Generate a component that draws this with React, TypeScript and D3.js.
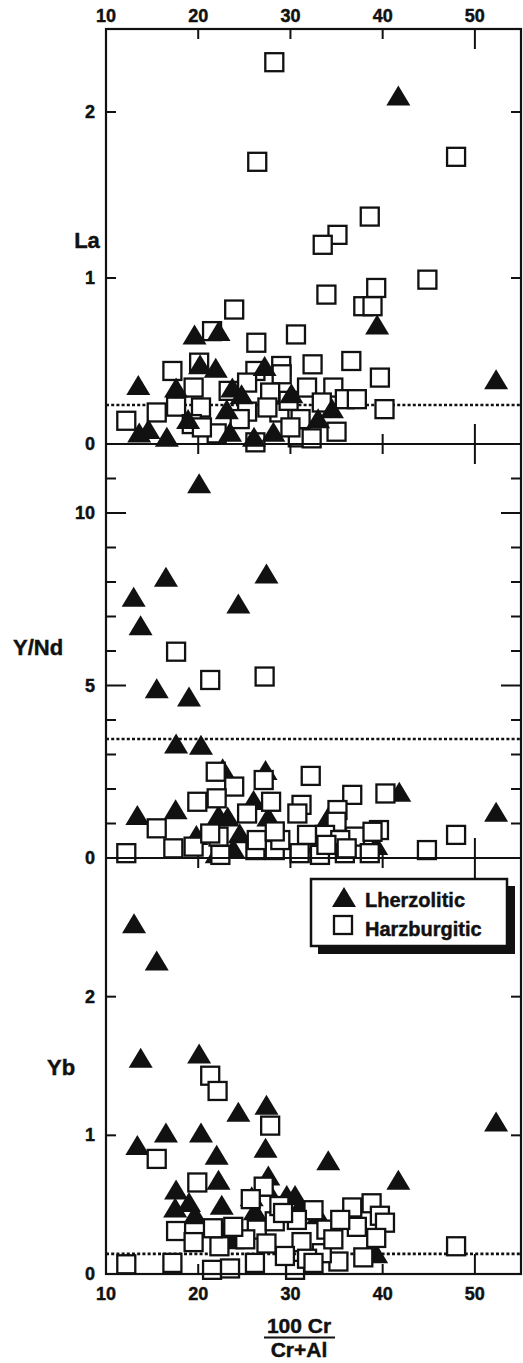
import React from "react";
import * as d3 from "d3";

// Cr# of spinel (100 Cr / (Cr+Al)) shared by all three panels
const xTicks = [10, 20, 30, 40, 50];

// La (ppm) panel
const laLherzolitic: [number, number][] = [
  [41.7, 2.1], [39.4, 0.72], [52.3, 0.39], [19.6, 0.66], [22.2, 0.68], [20.2, 0.48],
  [21.9, 0.46], [27.2, 0.47], [13.5, 0.355], [17.6, 0.34], [23.7, 0.34], [24.7, 0.3],
  [13.6, 0.07], [14.6, 0.09], [16.6, 0.044], [18.9, 0.15], [23.1, 0.21], [33.0, 0.155],
  [26.05, 0.044], [28.15, 0.074], [23.45, 0.074], [34.5, 0.215], [30.1, 0.305],
];
const laHarzburgitic: [number, number][] = [
  [28.25, 2.3], [26.4, 1.7], [47.96, 1.73], [38.6, 1.37], [35.1, 1.26], [33.5, 1.2],
  [44.85, 0.99], [39.3, 0.94], [33.9, 0.9], [37.9, 0.83], [38.9, 0.83], [23.9, 0.81],
  [21.5, 0.68], [26.3, 0.61], [30.6, 0.66], [20.1, 0.49], [17.2, 0.44], [36.6, 0.5],
  [39.7, 0.4], [32.4, 0.48], [29.0, 0.47], [26.2, 0.44], [19.5, 0.34], [25.3, 0.37],
  [23.3, 0.32], [29.05, 0.42], [31.8, 0.34], [34.65, 0.34], [27.8, 0.31], [35.9, 0.27],
  [37.2, 0.27], [17.6, 0.225], [20.3, 0.22], [15.5, 0.19], [12.2, 0.14], [25.3, 0.195],
  [28.8, 0.19], [31.1, 0.15], [33.4, 0.25], [22.0, 0.064], [35.0, 0.074], [30.8, 0.04],
  [40.2, 0.21], [19.3, 0.12], [20.4, 0.1], [26.2, 0.01], [32.3, 0.034], [29.8, 0.26],
  [27.5, 0.22], [24.5, 0.15], [30.0, 0.1],
];

// Y/Nd panel
const ynLherzolitic: [number, number][] = [
  [20.1, 10.86], [16.5, 8.15], [27.4, 8.25], [13.0, 7.57], [24.35, 7.38], [13.75, 6.75],
  [15.5, 4.92], [19.0, 4.68], [17.6, 3.32], [20.3, 3.28], [41.8, 1.92], [52.3, 1.34],
  [13.4, 1.25], [17.55, 1.41], [27.3, 2.55], [22.65, 2.6], [22.2, 1.25], [23.2, 1.2],
  [26.0, 1.68], [27.6, 1.2], [24.5, 0.72], [33.0, 0.43], [39.3, 0.38], [34.1, 1.2],
  [19.8, 0.67], [23.8, 0.28], [22.0, 0.14],
];
const ynHarzburgitic: [number, number][] = [
  [17.6, 5.98], [21.3, 5.16], [27.2, 5.26], [21.9, 2.5], [32.2, 2.38], [27.1, 2.26],
  [23.9, 2.07], [36.7, 1.83], [40.3, 1.87], [19.9, 1.63], [22.0, 1.73], [27.9, 1.63],
  [31.2, 1.54], [25.3, 1.29], [30.75, 1.29], [35.1, 1.39], [15.5, 0.86], [35.0, 1.05],
  [31.8, 0.67], [33.75, 0.67], [37.0, 0.62], [39.6, 0.81], [38.9, 0.76], [35.4, 0.52],
  [47.96, 0.67], [44.8, 0.23], [12.2, 0.14], [17.3, 0.28], [19.5, 0.33], [22.2, 0.62],
  [22.4, 0.09], [26.2, 0.23], [28.3, 0.23], [31.0, 0.14], [28.9, 0.52], [26.35, 0.52],
  [35.9, 0.14], [38.6, 0.14], [33.2, 0.09], [33.9, 0.38], [36.1, 0.28], [21.3, 0.71],
  [28.3, 0.77],
];

// Yb (ppm) panel
const ybLherzolitic: [number, number][] = [
  [13.04, 2.53], [15.5, 2.26], [13.76, 1.56], [20.1, 1.59], [24.35, 1.17], [27.4, 1.22],
  [52.3, 1.1], [13.4, 0.93], [16.5, 1.02], [20.3, 1.02], [27.3, 0.91], [22.0, 0.86],
  [34.1, 0.82], [41.7, 0.68], [22.2, 0.68], [17.6, 0.61], [27.6, 0.71], [19.0, 0.52],
  [17.5, 0.48], [22.55, 0.5], [19.65, 0.43], [25.8, 0.56], [29.6, 0.57], [30.5, 0.57],
  [33.0, 0.43], [26.15, 0.46], [22.9, 0.32], [23.7, 0.25], [39.3, 0.15], [31.0, 0.49],
  [27.4, 0.63],
];
const ybHarzburgitic: [number, number][] = [
  [21.3, 1.43], [22.1, 1.32], [27.8, 1.07], [15.5, 0.83], [19.9, 0.66], [27.1, 0.63],
  [17.6, 0.31], [19.5, 0.23], [12.2, 0.07], [17.2, 0.08], [21.5, 0.03], [23.45, 0.04],
  [26.15, 0.08], [30.5, 0.03], [35.2, 0.09], [47.96, 0.2], [22.3, 0.2], [26.35, 0.32],
  [28.3, 0.38], [28.8, 0.49], [31.2, 0.23], [33.9, 0.32], [37.2, 0.34], [36.7, 0.48],
  [38.8, 0.51], [39.7, 0.42], [40.25, 0.37], [39.3, 0.26], [33.4, 0.15], [37.9, 0.12],
  [31.8, 0.11], [29.4, 0.13], [27.4, 0.22], [25.1, 0.25], [23.8, 0.34], [21.6, 0.33],
  [32.5, 0.46], [35.4, 0.39], [30.7, 0.39], [34.65, 0.25], [25.7, 0.54], [29.2, 0.44],
  [32.5, 0.08],
];

// Reference levels (dotted lines)
const laReference = 0.235;
const ynReference = 3.45;
const ybReference = 0.145;

const W = 523;
const H = 1363;
const FONT = "'Liberation Sans', Arial, Helvetica, sans-serif";
const INK = "#111";

// heavier bold text: fill plus a thin matching outline
const textStyle = {
  fontFamily: FONT,
  fontWeight: "bold" as const,
  fill: INK,
  stroke: INK,
  strokeWidth: 0.45,
};

const x = d3.scaleLinear().domain([10, 55]).range([106, 521]);

type Panel = {
  label: string;
  labelX: number;
  labelY: number;
  labelAnchor: "start" | "middle" | "end";
  top: number;
  bottom: number;
  domain: [number, number];
  labelTicks: number[];
  minorTicks: number[];
  majorTicks: number[];
  reference: number;
  lherz: [number, number][];
  harz: [number, number][];
  squaresFirst: boolean;
};

const panels: Panel[] = [
  {
    label: "La", labelX: 87, labelY: 248, labelAnchor: "middle",
    top: 29, bottom: 444, domain: [0, 2.5],
    labelTicks: [0, 1, 2], minorTicks: [1, 2], majorTicks: [],
    reference: laReference, lherz: laLherzolitic, harz: laHarzburgitic, squaresFirst: true,
  },
  {
    label: "Y/Nd", labelX: 13, labelY: 655, labelAnchor: "start",
    top: 444, bottom: 858, domain: [0, 12],
    labelTicks: [0, 5, 10], minorTicks: [1, 2, 3, 4, 6, 7, 8, 9, 11], majorTicks: [5, 10],
    reference: ynReference, lherz: ynLherzolitic, harz: ynHarzburgitic, squaresFirst: false,
  },
  {
    label: "Yb", labelX: 47, labelY: 1075, labelAnchor: "start",
    top: 858, bottom: 1274, domain: [0, 3],
    labelTicks: [0, 1, 2], minorTicks: [1, 2], majorTicks: [],
    reference: ybReference, lherz: ybLherzolitic, harz: ybHarzburgitic, squaresFirst: false,
  },
];

const triPath = "M0,-10L12,10L-12,10Z";

function Triangle({ cx, cy }: { cx: number; cy: number }) {
  return <path d={triPath} transform={`translate(${cx},${cy})`} fill={INK} />;
}

function Square({ cx, cy }: { cx: number; cy: number }) {
  return (
    <rect x={cx - 9} y={cy - 9} width={18} height={18} fill="#fff" stroke={INK} strokeWidth={2.3} />
  );
}

function PanelView({ p }: { p: Panel }) {
  const y = d3.scaleLinear().domain(p.domain).range([p.bottom, p.top]);
  const [x0, x1] = x.range();
  const tris = p.lherz.map((d, i) => <Triangle key={`t${i}`} cx={x(d[0])} cy={y(d[1])} />);
  const sqs = p.harz.map((d, i) => <Square key={`s${i}`} cx={x(d[0])} cy={y(d[1])} />);
  return (
    <g>
      {/* y ticks on both sides */}
      {p.minorTicks.map((t) => (
        <g key={`mi${t}`}>
          <line x1={x0} x2={x0 + 10} y1={y(t)} y2={y(t)} stroke={INK} strokeWidth={2} />
          <line x1={x1 - 10} x2={x1} y1={y(t)} y2={y(t)} stroke={INK} strokeWidth={2} />
        </g>
      ))}
      {p.majorTicks.map((t) => (
        <g key={`ma${t}`}>
          <line x1={x0} x2={x0 + 20} y1={y(t)} y2={y(t)} stroke={INK} strokeWidth={2} />
          <line x1={x1 - 20} x2={x1} y1={y(t)} y2={y(t)} stroke={INK} strokeWidth={2} />
        </g>
      ))}
      {/* x ticks pointing into the panel from top and bottom */}
      {xTicks.slice(1).map((t) => {
        const len = t === 50 ? 20 : 10;
        return (
          <g key={`xt${t}`}>
            <line x1={x(t)} x2={x(t)} y1={p.top} y2={p.top + len} stroke={INK} strokeWidth={2} />
            <line x1={x(t)} x2={x(t)} y1={p.bottom} y2={p.bottom - len} stroke={INK} strokeWidth={2} />
          </g>
        );
      })}
      {p.labelTicks.map((t) => (
        <text key={`yl${t}`} x={95} y={y(t)} textAnchor="end" dominantBaseline="central"
          fontSize={18} {...textStyle}>
          {t}
        </text>
      ))}
      <text x={p.labelX} y={p.labelY} textAnchor={p.labelAnchor} fontSize={22} {...textStyle}>
        {p.label}
      </text>
      <line x1={x0} x2={x1} y1={y(p.reference)} y2={y(p.reference)} stroke={INK}
        strokeWidth={2.6} strokeDasharray="3 2.2" />
      {p.squaresFirst ? sqs : tris}
      {p.squaresFirst ? tris : sqs}
    </g>
  );
}

export default function App() {
  const [x0, x1] = x.range();
  const top = panels[0].top;
  const bottom = panels[2].bottom;
  return (
    <svg width={W} height={H} viewBox={`0 0 ${W} ${H}`}
      style={{ position: "absolute", left: 0, top: 0, background: "#fff" }}>
      <rect x={0} y={0} width={W} height={H} fill="#fff" />
      {panels.map((p) => <PanelView key={p.label} p={p} />)}
      {/* frame and panel dividers */}
      <rect x={x0} y={top} width={x1 - x0} height={bottom - top} fill="none" stroke={INK} strokeWidth={2.2} />
      <line x1={x0} x2={x1} y1={panels[1].top} y2={panels[1].top} stroke={INK} strokeWidth={2.2} />
      <line x1={x0} x2={x1} y1={panels[2].top} y2={panels[2].top} stroke={INK} strokeWidth={2.2} />
      {/* x tick labels, top and bottom */}
      {xTicks.map((t) => (
        <g key={`xl${t}`}>
          <text x={x(t)} y={22} textAnchor="middle" fontSize={18} {...textStyle}>{t}</text>
          <text x={x(t)} y={1300} textAnchor="middle" fontSize={18} {...textStyle}>{t}</text>
        </g>
      ))}
      {/* x axis title as a fraction */}
      <text x={299} y={1333} textAnchor="middle" fontSize={21} {...textStyle}>100 Cr</text>
      <line x1={264} x2={335} y1={1337.5} y2={1337.5} stroke={INK} strokeWidth={1.8} />
      <text x={299} y={1357} textAnchor="middle" fontSize={21} {...textStyle}>Cr+Al</text>
      {/* legend with drop shadow */}
      <g>
        <rect x={318} y={886} width={197} height={68} fill={INK} />
        <rect x={311} y={879} width={196} height={67} fill="#fff" stroke={INK} strokeWidth={2.5} />
        <Triangle cx={344} cy={897} />
        <text x={365} y={907} fontSize={20} {...textStyle}>Lherzolitic</text>
        <Square cx={343} cy={925} />
        <text x={365} y={936} fontSize={20} {...textStyle}>Harzburgitic</text>
      </g>
    </svg>
  );
}
